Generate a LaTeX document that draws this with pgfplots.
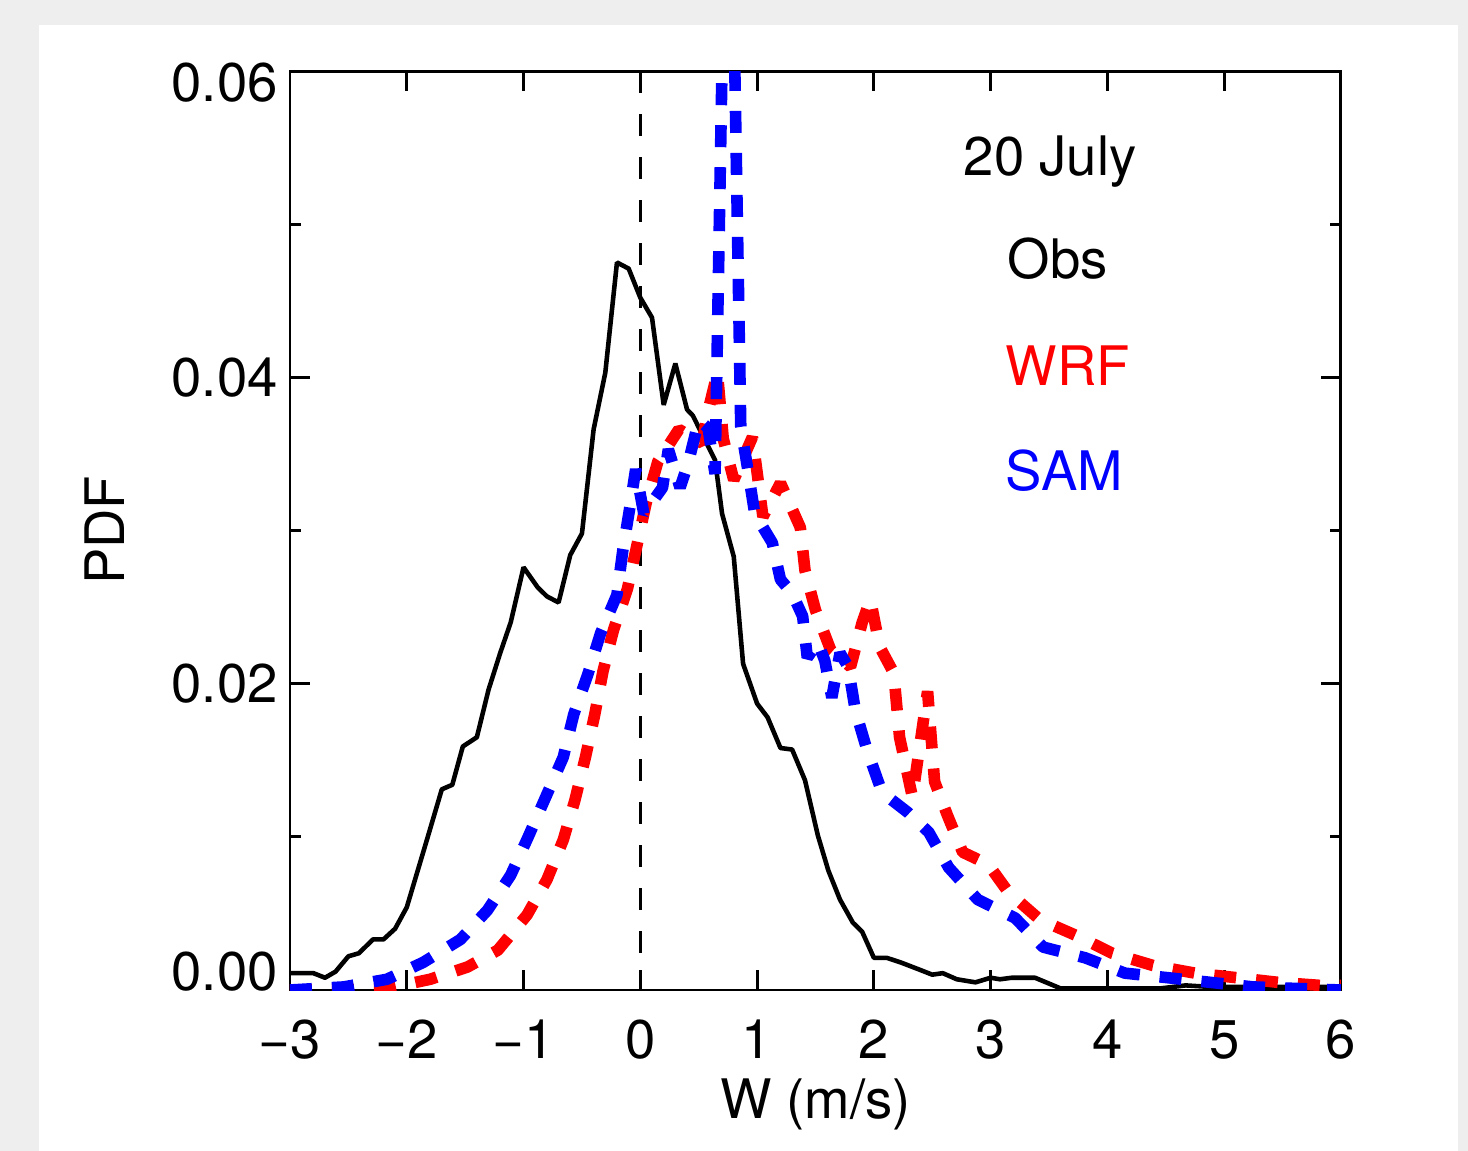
\documentclass[border=0pt]{standalone}
\usepackage{pgfplots}
\pgfplotsset{compat=1.18}
\usepackage{fontspec}
\setmainfont{TeX Gyre Heros}
\definecolor{bggray}{RGB}{238,238,238}
\definecolor{wrfred}{RGB}{255,0,0}
\definecolor{samblue}{RGB}{0,0,255}

\pgfplotstableread{
x y
-3.00 0.0011
-2.80 0.0011
-2.70 0.0008
-2.61 0.0012
-2.50 0.0022
-2.41 0.0024
-2.29 0.0033
-2.20 0.0033
-2.10 0.0040
-2.00 0.0054
-1.82 0.0100
-1.70 0.0131
-1.61 0.0134
-1.52 0.0159
-1.40 0.0165
-1.30 0.0196
-1.20 0.0220
-1.11 0.0240
-1.00 0.0276
-0.88 0.0263
-0.80 0.0257
-0.70 0.0253
-0.60 0.0284
-0.50 0.0298
-0.40 0.0366
-0.30 0.0403
-0.20 0.0475
-0.10 0.0471
0.00 0.0452
0.10 0.0439
0.20 0.0382
0.30 0.0409
0.40 0.0379
0.45 0.0375
0.64 0.0346
0.70 0.0311
0.80 0.0283
0.88 0.0213
1.00 0.0187
1.09 0.0178
1.20 0.0158
1.30 0.0157
1.41 0.0137
1.52 0.0101
1.61 0.0078
1.71 0.0059
1.82 0.0044
1.90 0.0038
2.00 0.0021
2.11 0.0021
2.23 0.0018
2.40 0.0013
2.50 0.0010
2.59 0.0011
2.71 0.0007
2.87 0.0005
3.00 0.0008
3.08 0.0007
3.18 0.0008
3.38 0.0008
3.60 0.0001
4.45 0.0001
4.67 0.0003
4.88 0.0002
6.00 0.0002
}\obsdata

\pgfplotstableread{
x y
-3.00 0.0000
-2.54 0.0000
-2.17 0.0001
-1.80 0.0007
-1.48 0.0015
-1.22 0.0026
-0.97 0.0049
-0.80 0.0072
-0.66 0.0098
-0.56 0.0124
-0.47 0.0152
-0.39 0.0180
-0.32 0.0208
-0.23 0.0235
-0.11 0.0262
-0.03 0.0290
0.05 0.0318
0.15 0.0345
0.33 0.0366
0.53 0.0357
0.58 0.0378
0.66 0.0403
0.71 0.0360
0.80 0.0333
0.96 0.0361
1.05 0.0309
1.20 0.0331
1.37 0.0302
1.41 0.0274
1.50 0.0248
1.63 0.0222
1.80 0.0211
1.90 0.0240
1.97 0.0255
2.05 0.0224
2.17 0.0207
2.22 0.0165
2.33 0.0126
2.46 0.0195
2.52 0.0136
2.63 0.0114
2.76 0.0090
2.98 0.0082
3.15 0.0064
3.42 0.0046
3.75 0.0035
4.04 0.0024
4.39 0.0016
4.75 0.0011
5.11 0.0008
5.46 0.0005
5.82 0.0003
6.00 0.0003
}\wrfdata

\pgfplotstableread{
x y
-3.00 0.0000
-2.54 0.0002
-2.17 0.0007
-1.86 0.0018
-1.54 0.0033
-1.31 0.0052
-1.11 0.0075
-0.96 0.0100
-0.81 0.0126
-0.66 0.0152
-0.57 0.0180
-0.45 0.0206
-0.34 0.0233
-0.20 0.0258
-0.15 0.0287
-0.09 0.0315
-0.04 0.0340
0.03 0.0311
0.19 0.0328
0.24 0.0353
0.34 0.0328
0.41 0.0344
0.50 0.0372
0.58 0.0367
0.64 0.0337
0.755 0.0850
0.86 0.0368
0.92 0.0340
0.98 0.0311
1.13 0.0292
1.20 0.0268
1.30 0.0259
1.39 0.0244
1.43 0.0217
1.52 0.0227
1.58 0.0215
1.64 0.0191
1.71 0.0220
1.78 0.0211
1.84 0.0183
1.94 0.0157
2.07 0.0129
2.29 0.0116
2.47 0.0103
2.64 0.0080
2.89 0.0059
3.21 0.0047
3.45 0.0028
3.81 0.0021
4.15 0.0011
4.52 0.0008
4.88 0.0005
5.25 0.0002
5.62 0.0001
6.00 0.0000
}\samdata

\begin{document}
\begin{tikzpicture}[x=1cm,y=1cm]
\path[use as bounding box] (0,0) rectangle (14.68,11.51);
\fill[bggray] (0,0) rectangle (14.68,11.51);
\fill[white] (0.39,0) rectangle (14.58,11.26);
\begin{axis}[
  at={(2.90cm,1.61cm)}, anchor=south west,
  width=10.51cm, height=9.19cm, scale only axis,
  xmin=-3, xmax=6, ymin=0, ymax=0.06,
  xtick={-3,-2,-1,0,1,2,3,4,5,6},
  xticklabels={−3,−2,−1,0,1,2,3,4,5,6},
  ytick={0,0.02,0.04,0.06},
  yticklabels={\raisebox{0.18cm}[\height][\depth]{0.00},0.02,0.04,\raisebox{-0.12cm}[\height][\depth]{0.06}},
  minor ytick={0.01,0.03,0.05},
  scaled y ticks=false,
  tick align=inside,
  major tick length=0.2cm, minor tick length=0.11cm,
  tick style={black, line width=0.85pt},
  axis line style={line width=0.85pt},
  tick label style={font=\fontsize{15.5}{18}\selectfont},
  xticklabel style={anchor=base, yshift=-0.68cm},
  yticklabel style={anchor=east},
  label style={font=\fontsize{15.5}{18}\selectfont},
  xlabel={W (m/s)},
  xlabel style={at={(axis description cs:0.5,-0.1393)}, anchor=base},
  ylabel={PDF},
  ylabel style={at={(axis description cs:-0.157,0.5)}, anchor=base},
]
\addplot[black, line width=0.8pt, dash pattern=on 0.22cm off 0.21cm] coordinates {(0,0.06) (0,0)};
\addplot[black, line width=1.3pt, line join=bevel] table[x=x,y=y] {\obsdata};
\addplot[wrfred, line width=3.3pt, line join=bevel, dash pattern=on 0.22cm off 0.2cm] table[x=x,y=y] {\wrfdata};
\addplot[samblue, line width=3.3pt, line join=bevel, dash pattern=on 0.22cm off 0.2cm] table[x=x,y=y] {\samdata};
\node[anchor=base west, inner sep=0pt, font=\fontsize{15.5}{18}\selectfont] at (axis cs:2.765,0.05321) {20 July};
\node[anchor=base west, inner sep=0pt, font=\fontsize{15.5}{18}\selectfont] at (axis cs:3.142,0.04648) {Obs};
\node[anchor=base west, inner sep=0pt, text=wrfred, font=\fontsize{15.5}{18}\selectfont] at (axis cs:3.125,0.0395) {WRF};
\node[anchor=base west, inner sep=0pt, text=samblue, font=\fontsize{15.5}{18}\selectfont] at (axis cs:3.125,0.03264) {SAM};
\end{axis}
\end{tikzpicture}
\end{document}
